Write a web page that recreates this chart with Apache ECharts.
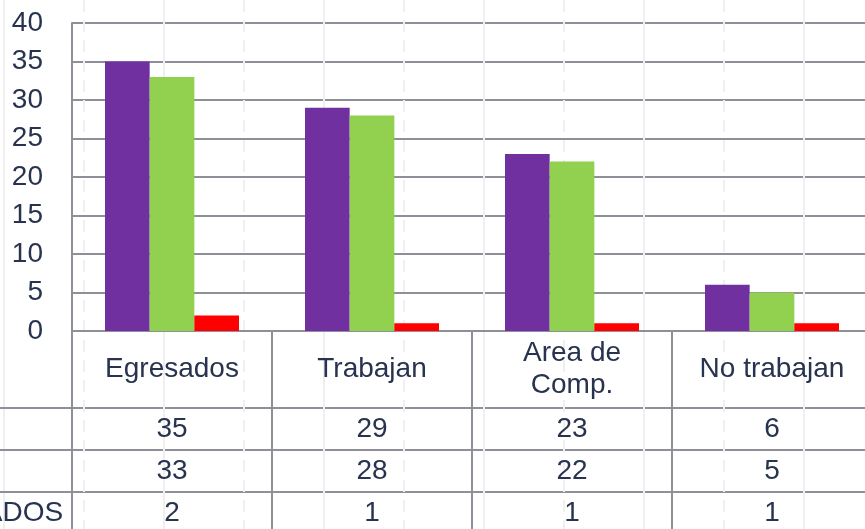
<!DOCTYPE html>
<html>
<head>
<meta charset="utf-8">
<script src="https://cdn.jsdelivr.net/npm/echarts@6/dist/echarts.min.js"></script>
<style>
	html, body { margin: 0; padding: 0; background: #fff; }
	#chart { width: 865px; height: 529px; }
</style>
</head>
<body>
<div id="chart"></div>
<script>
// categorias y valores
var categories = ['Egresados', 'Trabajan', 'Area de\nComp.', 'No trabajan'];
var rowNames = ['2013', '2014', 'TITULADOS'];
var serie1 = [35, 29, 23, 6];
var serie2 = [33, 28, 22, 5];
var serie3 = [2, 1, 1, 1];
var yTicks = [0, 5, 10, 15, 20, 25, 30, 35, 40];

var colors = ['#7030a0', '#92d050', '#ff0000'];
var textColor = '#28334f';
var lineColor = '#8e8f97';
var fontFamily = 'Liberation Sans, Arial, sans-serif';
var fontSize = 28;

// celdas de la tabla de datos
var allSeries = [serie1, serie2, serie3];
var tableSeries = [];
for (var r = 0; r < allSeries.length; ++r) {
	var cells = [];
	for (var c = 0; c < categories.length; ++c) {
		cells.push([categories[c], rowNames[r], allSeries[r][c]]);
	}
	tableSeries.push({
		type: 'scatter',
		xAxisIndex: 1,
		yAxisIndex: 1,
		symbolSize: 1,
		itemStyle: { color: 'transparent', opacity: 1 },
		silent: true,
		label: {
			show: true,
			position: 'inside',
			color: textColor,
			opacity: 1,
			textBorderWidth: 0,
			fontSize: fontSize,
			fontFamily: fontFamily,
			formatter: function(p) { return p.value[2]; }
		},
		data: cells
	});
}

function barSeries(data, i) {
	return {
		type: 'bar',
		xAxisIndex: 0,
		yAxisIndex: 0,
		barGap: 0,
		barCategoryGap: '33%',
		itemStyle: { color: colors[i] },
		data: data
	};
}

function hiddenValueAxis(idx, dashed) {
	return {
		type: 'value',
		gridIndex: idx,
		min: 0,
		max: 960,
		interval: 160,
		axisLine: { show: false },
		axisTick: { show: false },
		axisLabel: { show: false },
		splitLine: { show: true, lineStyle: { color: '#efefef', width: 2, type: dashed ? [12, 8] : 'solid' } }
	};
}

var myChart = echarts.init(document.getElementById('chart'));

var option = {
	animation: false,
	grid: [
		{ left: 72, top: 23, width: 800, height: 308, outerBoundsMode: 'none' },
		{ left: 72, top: 408, width: 800, height: 126, outerBoundsMode: 'none' },
		// lineas tenues de fondo
		{ left: 4, top: 0, width: 960, height: 529, outerBoundsMode: 'none' },
		{ left: 84, top: 0, width: 960, height: 529, outerBoundsMode: 'none' }
	],
	xAxis: [{
		type: 'category',
		gridIndex: 0,
		data: categories,
		axisLine: { lineStyle: { color: lineColor, width: 2 } },
		axisTick: { show: true, length: 200, lineStyle: { color: lineColor, width: 2 } },
		axisLabel: {
			color: textColor,
			fontSize: fontSize,
			fontFamily: fontFamily,
			lineHeight: 32,
			verticalAlign: 'middle',
			margin: 38,
			interval: 0
		},
		splitLine: { show: false }
	}, {
		type: 'category',
		gridIndex: 1,
		data: categories,
		axisLine: { show: false },
		axisTick: { show: false },
		axisLabel: { show: false },
		splitLine: { show: false }
	},
	hiddenValueAxis(2, false),
	hiddenValueAxis(3, true)],
	yAxis: [{
		type: 'value',
		gridIndex: 0,
		min: yTicks[0],
		max: yTicks[yTicks.length - 1],
		interval: yTicks[1] - yTicks[0],
		axisLine: { show: true, lineStyle: { color: lineColor, width: 2 } },
		axisTick: { show: false },
		axisLabel: {
			color: textColor,
			fontSize: fontSize,
			fontFamily: fontFamily,
			margin: 29
		},
		splitLine: { show: true, lineStyle: { color: lineColor, width: 2 } }
	}, {
		type: 'category',
		gridIndex: 1,
		inverse: true,
		data: rowNames,
		axisLine: { show: false },
		axisTick: { show: true, length: 72, lineStyle: { color: lineColor, width: 2 } },
		axisLabel: {
			color: textColor,
			fontSize: fontSize,
			fontFamily: fontFamily,
			align: 'left',
			margin: 166
		},
		splitLine: { show: true, lineStyle: { color: lineColor, width: 2 } }
	}, {
		type: 'value',
		gridIndex: 2,
		show: false
	}, {
		type: 'value',
		gridIndex: 3,
		show: false
	}],
	series: [
		barSeries(serie1, 0),
		barSeries(serie2, 1),
		barSeries(serie3, 2)
	].concat(tableSeries)
};

myChart.setOption(option);
</script>
</body>
</html>
